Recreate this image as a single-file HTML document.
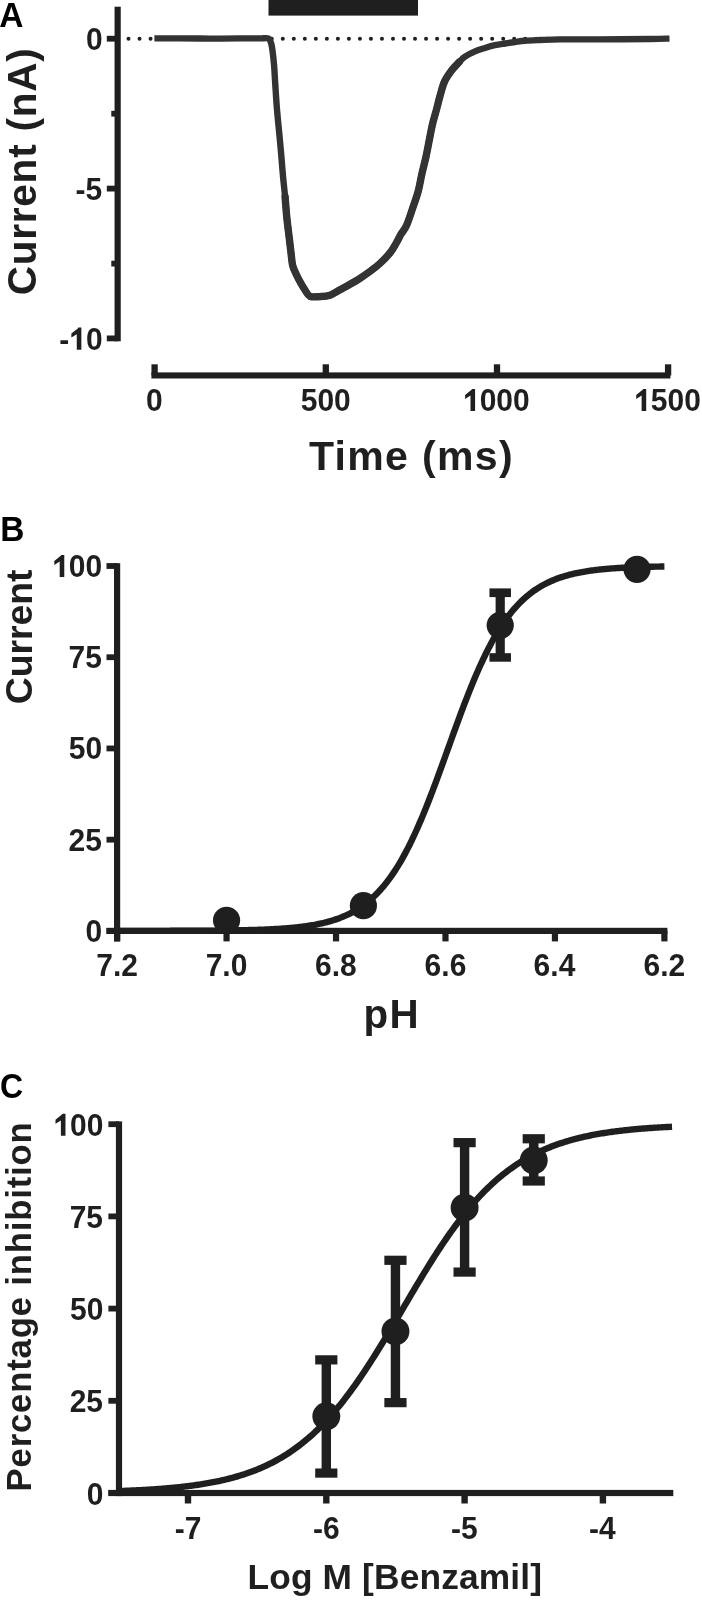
<!DOCTYPE html>
<html><head><meta charset="utf-8"><style>
html,body{margin:0;padding:0;background:#fff;}
body{width:702px;height:1603px;overflow:hidden;}
svg{display:block;will-change:transform;}
text{font-family:"Liberation Sans",sans-serif;font-weight:bold;fill:#1f1f1f;}
</style></head><body>
<svg width="702" height="1603" viewBox="0 0 702 1603">
<text transform="translate(-0.84,27.10) scale(1.0173,1.0407)" font-size="32.96" letter-spacing="0.00" style="fill:#000">A</text>
<rect x="114.55" y="6.70" width="6.20" height="334.60" fill="#1f1f1f"/>
<rect x="106.80" y="35.80" width="10.85" height="5.80" fill="#1f1f1f"/>
<rect x="106.80" y="185.70" width="10.85" height="5.80" fill="#1f1f1f"/>
<rect x="106.80" y="335.50" width="10.85" height="5.80" fill="#1f1f1f"/>
<rect x="111.30" y="110.80" width="6.35" height="5.80" fill="#1f1f1f"/>
<rect x="111.30" y="260.70" width="6.35" height="5.80" fill="#1f1f1f"/>
<text transform="translate(85.95,49.94) scale(1,1.0407)" font-size="30.0">0</text>
<text transform="translate(75.57,199.84) scale(1,1.0407)" font-size="30.0">-</text>
<text transform="translate(85.56,199.84) scale(1,1.0407)" font-size="30.0">5</text>
<text transform="translate(59.28,349.64) scale(1,1.0407)" font-size="30.0">-</text>
<polygon points="81.36,349.64 81.36,327.60 78.27,327.60 77.82,328.41 71.37,333.56 71.37,337.62 76.77,334.22 76.77,349.64" fill="#1f1f1f"/>
<text transform="translate(85.95,349.64) scale(1,1.0407)" font-size="30.0">0</text>
<text transform="translate(36.30,295.26) rotate(-90) scale(1,1.0000)" font-size="40.50" letter-spacing="0.77" style="fill:#1f1f1f">Current (nA)</text>
<rect x="151.40" y="372.40" width="519.00" height="6.10" fill="#1f1f1f"/>
<rect x="151.45" y="364.30" width="6.30" height="11.15" fill="#1f1f1f"/>
<text transform="translate(146.08,411.00) scale(1,1.0407)" font-size="30.0">0</text>
<rect x="322.65" y="364.30" width="6.30" height="11.15" fill="#1f1f1f"/>
<text transform="translate(300.73,411.00) scale(1,1.0407)" font-size="30.0">5</text>
<text transform="translate(317.41,411.00) scale(1,1.0407)" font-size="30.0">0</text>
<text transform="translate(334.09,411.00) scale(1,1.0407)" font-size="30.0">0</text>
<rect x="493.85" y="364.30" width="6.30" height="11.15" fill="#1f1f1f"/>
<polygon points="475.09,411.00 475.09,388.96 472.00,388.96 471.56,389.77 465.11,394.92 465.11,398.98 470.50,395.58 470.50,411.00" fill="#1f1f1f"/>
<text transform="translate(479.69,411.00) scale(1,1.0407)" font-size="30.0">0</text>
<text transform="translate(496.37,411.00) scale(1,1.0407)" font-size="30.0">0</text>
<text transform="translate(513.04,411.00) scale(1,1.0407)" font-size="30.0">0</text>
<rect x="664.95" y="364.30" width="6.30" height="11.15" fill="#1f1f1f"/>
<polygon points="646.20,411.00 646.20,388.96 643.11,388.96 642.65,389.77 636.21,394.92 636.21,398.98 641.61,395.58 641.61,411.00" fill="#1f1f1f"/>
<text transform="translate(650.78,411.00) scale(1,1.0407)" font-size="30.0">5</text>
<text transform="translate(667.46,411.00) scale(1,1.0407)" font-size="30.0">0</text>
<text transform="translate(684.14,411.00) scale(1,1.0407)" font-size="30.0">0</text>
<text transform="translate(308.95,469.70) scale(1.0000,1.0000)" font-size="41.06" letter-spacing="1.31" style="fill:#1f1f1f">Time (ms)</text>
<rect x="268.50" y="0.00" width="149.50" height="15.60" fill="#1f1f1f"/>
<circle cx="128.50" cy="38.70" r="2.0" fill="#1f1f1f"/>
<circle cx="139.52" cy="38.70" r="2.0" fill="#1f1f1f"/>
<circle cx="150.54" cy="38.70" r="2.0" fill="#1f1f1f"/>
<circle cx="161.56" cy="38.70" r="2.0" fill="#1f1f1f"/>
<circle cx="172.58" cy="38.70" r="2.0" fill="#1f1f1f"/>
<circle cx="183.60" cy="38.70" r="2.0" fill="#1f1f1f"/>
<circle cx="194.62" cy="38.70" r="2.0" fill="#1f1f1f"/>
<circle cx="205.64" cy="38.70" r="2.0" fill="#1f1f1f"/>
<circle cx="216.66" cy="38.70" r="2.0" fill="#1f1f1f"/>
<circle cx="227.68" cy="38.70" r="2.0" fill="#1f1f1f"/>
<circle cx="238.70" cy="38.70" r="2.0" fill="#1f1f1f"/>
<circle cx="249.72" cy="38.70" r="2.0" fill="#1f1f1f"/>
<circle cx="260.74" cy="38.70" r="2.0" fill="#1f1f1f"/>
<circle cx="271.76" cy="38.70" r="2.0" fill="#1f1f1f"/>
<circle cx="282.78" cy="38.70" r="2.0" fill="#1f1f1f"/>
<circle cx="293.80" cy="38.70" r="2.0" fill="#1f1f1f"/>
<circle cx="304.82" cy="38.70" r="2.0" fill="#1f1f1f"/>
<circle cx="315.84" cy="38.70" r="2.0" fill="#1f1f1f"/>
<circle cx="326.86" cy="38.70" r="2.0" fill="#1f1f1f"/>
<circle cx="337.88" cy="38.70" r="2.0" fill="#1f1f1f"/>
<circle cx="348.90" cy="38.70" r="2.0" fill="#1f1f1f"/>
<circle cx="359.92" cy="38.70" r="2.0" fill="#1f1f1f"/>
<circle cx="370.94" cy="38.70" r="2.0" fill="#1f1f1f"/>
<circle cx="381.96" cy="38.70" r="2.0" fill="#1f1f1f"/>
<circle cx="392.98" cy="38.70" r="2.0" fill="#1f1f1f"/>
<circle cx="404.00" cy="38.70" r="2.0" fill="#1f1f1f"/>
<circle cx="415.02" cy="38.70" r="2.0" fill="#1f1f1f"/>
<circle cx="426.04" cy="38.70" r="2.0" fill="#1f1f1f"/>
<circle cx="437.06" cy="38.70" r="2.0" fill="#1f1f1f"/>
<circle cx="448.08" cy="38.70" r="2.0" fill="#1f1f1f"/>
<circle cx="459.10" cy="38.70" r="2.0" fill="#1f1f1f"/>
<circle cx="470.12" cy="38.70" r="2.0" fill="#1f1f1f"/>
<circle cx="481.14" cy="38.70" r="2.0" fill="#1f1f1f"/>
<circle cx="492.16" cy="38.70" r="2.0" fill="#1f1f1f"/>
<circle cx="503.18" cy="38.70" r="2.0" fill="#1f1f1f"/>
<circle cx="514.20" cy="38.70" r="2.0" fill="#1f1f1f"/>
<circle cx="525.22" cy="38.70" r="2.0" fill="#1f1f1f"/>
<circle cx="536.24" cy="38.70" r="2.0" fill="#1f1f1f"/>
<circle cx="547.26" cy="38.70" r="2.0" fill="#1f1f1f"/>
<circle cx="558.28" cy="38.70" r="2.0" fill="#1f1f1f"/>
<circle cx="569.30" cy="38.70" r="2.0" fill="#1f1f1f"/>
<circle cx="580.32" cy="38.70" r="2.0" fill="#1f1f1f"/>
<circle cx="591.34" cy="38.70" r="2.0" fill="#1f1f1f"/>
<circle cx="602.36" cy="38.70" r="2.0" fill="#1f1f1f"/>
<circle cx="613.38" cy="38.70" r="2.0" fill="#1f1f1f"/>
<circle cx="624.40" cy="38.70" r="2.0" fill="#1f1f1f"/>
<circle cx="635.42" cy="38.70" r="2.0" fill="#1f1f1f"/>
<circle cx="646.44" cy="38.70" r="2.0" fill="#1f1f1f"/>
<circle cx="657.46" cy="38.70" r="2.0" fill="#1f1f1f"/>
<path d="M154.40,38.40 C158.67,38.38 170.73,38.27 180.00,38.30 C189.27,38.33 200.00,38.58 210.00,38.60 C220.00,38.62 231.33,38.45 240.00,38.40 C248.67,38.35 258.33,38.32 262.00,38.30" fill="none" stroke="#333333" stroke-width="6.3" stroke-linejoin="round" stroke-linecap="butt"/>
<path d="M262.00,38.30 C263.08,38.33 266.97,37.63 268.50,38.50 C270.03,39.37 270.52,41.35 271.20,43.50 C271.88,45.65 272.12,47.72 272.60,51.40 C273.08,55.08 273.70,60.85 274.10,65.60 C274.50,70.35 274.70,75.15 275.00,79.90 C275.30,84.65 275.58,89.37 275.90,94.10 C276.22,98.83 276.52,103.55 276.90,108.30 C277.28,113.05 277.75,117.85 278.20,122.60 C278.65,127.35 279.08,131.30 279.60,136.80 C280.12,142.30 280.73,149.03 281.30,155.60 C281.87,162.17 282.37,169.33 283.00,176.20 C283.63,183.07 284.47,189.93 285.10,196.80 C285.73,203.67 286.07,210.20 286.80,217.40 C287.53,224.60 288.80,234.10 289.50,240.00 C290.20,245.90 290.47,248.53 291.00,252.80 C291.53,257.07 291.83,262.03 292.70,265.60 C293.57,269.17 294.88,271.35 296.20,274.20 C297.52,277.05 299.13,280.07 300.60,282.70 C302.07,285.33 303.43,287.73 305.00,290.00 C306.57,292.27 307.50,295.20 310.00,296.30 C312.50,297.40 316.67,296.78 320.00,296.60 C323.33,296.42 326.67,296.33 330.00,295.20 C333.33,294.07 336.67,291.62 340.00,289.80 C343.33,287.98 346.67,286.22 350.00,284.30 C353.33,282.38 356.67,280.45 360.00,278.30 C363.33,276.15 366.67,273.88 370.00,271.40 C373.33,268.92 376.67,266.48 380.00,263.40 C383.33,260.32 387.33,256.22 390.00,252.90 C392.67,249.58 394.17,246.62 396.00,243.50 C397.83,240.38 399.25,237.20 401.00,234.20 C402.75,231.20 404.57,229.80 406.50,225.50 C408.43,221.20 410.65,214.10 412.60,208.40 C414.55,202.70 416.67,197.00 418.20,191.30 C419.73,185.60 420.52,179.90 421.80,174.20 C423.08,168.50 424.65,162.80 425.90,157.10 C427.15,151.40 428.20,145.50 429.30,140.00 C430.40,134.50 431.32,129.12 432.50,124.10 C433.68,119.08 435.13,114.65 436.40,109.90 C437.67,105.15 438.73,100.35 440.10,95.60 C441.47,90.85 442.72,85.55 444.60,81.40 C446.48,77.25 448.97,73.92 451.40,70.70 C453.83,67.48 456.93,64.43 459.20,62.10 C461.47,59.77 462.37,58.48 465.00,56.70 C467.63,54.92 471.67,52.85 475.00,51.40 C478.33,49.95 481.67,49.03 485.00,48.00 C488.33,46.97 491.67,45.95 495.00,45.20 C498.33,44.45 501.67,44.03 505.00,43.50 C508.33,42.97 511.67,42.47 515.00,42.00 C518.33,41.53 520.83,41.03 525.00,40.70 C529.17,40.37 534.17,40.22 540.00,40.00 C545.83,39.78 550.00,39.50 560.00,39.40 C570.00,39.30 585.00,39.47 600.00,39.40 C615.00,39.33 638.42,39.13 650.00,39.00 C661.58,38.87 666.25,38.67 669.50,38.60" fill="none" stroke="#333333" stroke-width="6.4" stroke-linejoin="round" stroke-linecap="butt"/>
<path d="M285.10,196.80 C285.38,200.23 286.07,210.20 286.80,217.40 C287.53,224.60 288.80,234.10 289.50,240.00 C290.20,245.90 290.47,248.53 291.00,252.80 C291.53,257.07 291.83,262.03 292.70,265.60 C293.57,269.17 294.88,271.35 296.20,274.20 C297.52,277.05 299.13,280.07 300.60,282.70 C302.07,285.33 303.43,287.73 305.00,290.00 C306.57,292.27 307.50,295.20 310.00,296.30 C312.50,297.40 316.67,296.78 320.00,296.60 C323.33,296.42 326.67,296.33 330.00,295.20 C333.33,294.07 336.67,291.62 340.00,289.80 C343.33,287.98 346.67,286.22 350.00,284.30 C353.33,282.38 356.67,280.45 360.00,278.30 C363.33,276.15 366.67,273.88 370.00,271.40 C373.33,268.92 376.67,266.48 380.00,263.40 C383.33,260.32 387.33,256.22 390.00,252.90 C392.67,249.58 394.17,246.62 396.00,243.50 C397.83,240.38 399.25,237.20 401.00,234.20 C402.75,231.20 404.57,229.80 406.50,225.50 C408.43,221.20 410.65,214.10 412.60,208.40 C414.55,202.70 416.67,197.00 418.20,191.30 C419.73,185.60 420.52,179.90 421.80,174.20 C423.08,168.50 424.65,162.80 425.90,157.10 C427.15,151.40 428.20,145.50 429.30,140.00 C430.40,134.50 431.32,129.12 432.50,124.10 C433.68,119.08 435.13,114.65 436.40,109.90 C437.67,105.15 438.73,100.35 440.10,95.60 C441.47,90.85 442.72,85.55 444.60,81.40 C446.48,77.25 448.97,73.92 451.40,70.70 C453.83,67.48 457.90,63.53 459.20,62.10" fill="none" stroke="#333333" stroke-width="7.4" stroke-linejoin="round" stroke-linecap="round"/>
<text transform="translate(0.16,541.05) scale(1.0082,1.0407)" font-size="33.17" letter-spacing="0.00" style="fill:#000">B</text>
<rect x="114.00" y="563.20" width="6.20" height="378.20" fill="#1f1f1f"/>
<rect x="106.50" y="927.80" width="560.90" height="6.20" fill="#1f1f1f"/>
<rect x="106.50" y="928.00" width="10.60" height="5.80" fill="#1f1f1f"/>
<text transform="translate(85.55,941.94) scale(1,1.0407)" font-size="30.0">0</text>
<rect x="106.50" y="836.77" width="10.60" height="5.80" fill="#1f1f1f"/>
<text transform="translate(68.48,850.71) scale(1,1.0407)" font-size="30.0">2</text>
<text transform="translate(85.16,850.71) scale(1,1.0407)" font-size="30.0">5</text>
<rect x="106.50" y="745.55" width="10.60" height="5.80" fill="#1f1f1f"/>
<text transform="translate(68.87,759.49) scale(1,1.0407)" font-size="30.0">5</text>
<text transform="translate(85.55,759.49) scale(1,1.0407)" font-size="30.0">0</text>
<rect x="106.50" y="654.32" width="10.60" height="5.80" fill="#1f1f1f"/>
<text transform="translate(68.48,668.26) scale(1,1.0407)" font-size="30.0">7</text>
<text transform="translate(85.16,668.26) scale(1,1.0407)" font-size="30.0">5</text>
<rect x="106.50" y="563.10" width="10.60" height="5.80" fill="#1f1f1f"/>
<polygon points="64.28,577.04 64.28,555.00 61.19,555.00 60.74,555.81 54.29,560.96 54.29,565.02 59.69,561.62 59.69,577.04" fill="#1f1f1f"/>
<text transform="translate(68.87,577.04) scale(1,1.0407)" font-size="30.0">0</text>
<text transform="translate(85.55,577.04) scale(1,1.0407)" font-size="30.0">0</text>
<rect x="114.00" y="930.90" width="6.20" height="10.50" fill="#1f1f1f"/>
<text transform="translate(96.20,975.90) scale(1,1.0407)" font-size="30.0">7</text>
<text transform="translate(112.88,975.90) scale(1,1.0407)" font-size="30.0">.</text>
<text transform="translate(121.22,975.90) scale(1,1.0407)" font-size="30.0">2</text>
<rect x="223.46" y="930.90" width="6.20" height="10.50" fill="#1f1f1f"/>
<text transform="translate(205.68,975.90) scale(1,1.0407)" font-size="30.0">7</text>
<text transform="translate(222.36,975.90) scale(1,1.0407)" font-size="30.0">.</text>
<text transform="translate(230.70,975.90) scale(1,1.0407)" font-size="30.0">0</text>
<rect x="332.92" y="930.90" width="6.20" height="10.50" fill="#1f1f1f"/>
<text transform="translate(315.08,975.90) scale(1,1.0407)" font-size="30.0">6</text>
<text transform="translate(331.76,975.90) scale(1,1.0407)" font-size="30.0">.</text>
<text transform="translate(340.10,975.90) scale(1,1.0407)" font-size="30.0">8</text>
<rect x="442.38" y="930.90" width="6.20" height="10.50" fill="#1f1f1f"/>
<text transform="translate(424.62,975.90) scale(1,1.0407)" font-size="30.0">6</text>
<text transform="translate(441.30,975.90) scale(1,1.0407)" font-size="30.0">.</text>
<text transform="translate(449.64,975.90) scale(1,1.0407)" font-size="30.0">6</text>
<rect x="551.84" y="930.90" width="6.20" height="10.50" fill="#1f1f1f"/>
<text transform="translate(533.61,975.90) scale(1,1.0407)" font-size="30.0">6</text>
<text transform="translate(550.29,975.90) scale(1,1.0407)" font-size="30.0">.</text>
<text transform="translate(558.63,975.90) scale(1,1.0407)" font-size="30.0">4</text>
<rect x="661.30" y="930.90" width="6.20" height="10.50" fill="#1f1f1f"/>
<text transform="translate(643.60,975.90) scale(1,1.0407)" font-size="30.0">6</text>
<text transform="translate(660.27,975.90) scale(1,1.0407)" font-size="30.0">.</text>
<text transform="translate(668.62,975.90) scale(1,1.0407)" font-size="30.0">2</text>
<text transform="translate(363.54,1027.90) scale(1.0000,1.0000)" font-size="40.36" letter-spacing="1.36" style="fill:#1f1f1f">pH</text>
<text transform="translate(32.05,704.24) rotate(-90) scale(1,1.0000)" font-size="37.50" letter-spacing="-0.12" style="fill:#1f1f1f">Current</text>
<path d="M117.10,930.88 L118.47,930.88 L119.84,930.88 L121.22,930.88 L122.59,930.88 L123.96,930.88 L125.33,930.88 L126.70,930.88 L128.07,930.88 L129.45,930.88 L130.82,930.88 L132.19,930.88 L133.56,930.88 L134.93,930.87 L136.30,930.87 L137.68,930.87 L139.05,930.87 L140.42,930.87 L141.79,930.87 L143.16,930.87 L144.53,930.87 L145.91,930.86 L147.28,930.86 L148.65,930.86 L150.02,930.86 L151.39,930.86 L152.76,930.86 L154.14,930.85 L155.51,930.85 L156.88,930.85 L158.25,930.85 L159.62,930.84 L160.99,930.84 L162.37,930.84 L163.74,930.84 L165.11,930.83 L166.48,930.83 L167.85,930.83 L169.22,930.83 L170.60,930.82 L171.97,930.82 L173.34,930.82 L174.71,930.81 L176.08,930.81 L177.45,930.81 L178.83,930.80 L180.20,930.80 L181.57,930.79 L182.94,930.79 L184.31,930.78 L185.68,930.78 L187.06,930.77 L188.43,930.77 L189.80,930.76 L191.17,930.76 L192.54,930.75 L193.91,930.74 L195.29,930.74 L196.66,930.73 L198.03,930.72 L199.40,930.71 L200.77,930.71 L202.14,930.70 L203.52,930.69 L204.89,930.68 L206.26,930.67 L207.63,930.66 L209.00,930.65 L210.37,930.64 L211.75,930.63 L213.12,930.62 L214.49,930.61 L215.86,930.59 L217.23,930.58 L218.60,930.57 L219.98,930.55 L221.35,930.54 L222.72,930.52 L224.09,930.51 L225.46,930.49 L226.83,930.47 L228.21,930.45 L229.58,930.44 L230.95,930.42 L232.32,930.40 L233.69,930.37 L235.06,930.35 L236.44,930.33 L237.81,930.30 L239.18,930.28 L240.55,930.25 L241.92,930.22 L243.29,930.19 L244.67,930.16 L246.04,930.13 L247.41,930.10 L248.78,930.07 L250.15,930.03 L251.52,929.99 L252.90,929.96 L254.27,929.92 L255.64,929.87 L257.01,929.83 L258.38,929.78 L259.75,929.74 L261.13,929.69 L262.50,929.64 L263.87,929.58 L265.24,929.53 L266.61,929.47 L267.98,929.41 L269.36,929.34 L270.73,929.28 L272.10,929.21 L273.47,929.14 L274.84,929.06 L276.21,928.98 L277.59,928.90 L278.96,928.82 L280.33,928.73 L281.70,928.63 L283.07,928.54 L284.44,928.44 L285.82,928.33 L287.19,928.23 L288.56,928.11 L289.93,927.99 L291.30,927.87 L292.67,927.74 L294.05,927.61 L295.42,927.47 L296.79,927.32 L298.16,927.17 L299.53,927.01 L300.91,926.85 L302.28,926.68 L303.65,926.50 L305.02,926.32 L306.39,926.12 L307.76,925.92 L309.14,925.71 L310.51,925.49 L311.88,925.27 L313.25,925.03 L314.62,924.78 L315.99,924.53 L317.37,924.26 L318.74,923.98 L320.11,923.69 L321.48,923.39 L322.85,923.07 L324.22,922.75 L325.60,922.41 L326.97,922.05 L328.34,921.68 L329.71,921.30 L331.08,920.90 L332.45,920.49 L333.83,920.06 L335.20,919.61 L336.57,919.14 L337.94,918.65 L339.31,918.15 L340.68,917.62 L342.06,917.08 L343.43,916.51 L344.80,915.92 L346.17,915.31 L347.54,914.67 L348.91,914.01 L350.29,913.32 L351.66,912.61 L353.03,911.87 L354.40,911.10 L355.77,910.30 L357.14,909.48 L358.52,908.62 L359.89,907.72 L361.26,906.80 L362.63,905.84 L364.00,904.85 L365.37,903.82 L366.75,902.75 L368.12,901.64 L369.49,900.49 L370.86,899.31 L372.23,898.08 L373.60,896.81 L374.98,895.49 L376.35,894.13 L377.72,892.73 L379.09,891.27 L380.46,889.77 L381.83,888.22 L383.21,886.62 L384.58,884.96 L385.95,883.26 L387.32,881.50 L388.69,879.68 L390.06,877.81 L391.44,875.88 L392.81,873.90 L394.18,871.86 L395.55,869.76 L396.92,867.60 L398.29,865.38 L399.67,863.10 L401.04,860.76 L402.41,858.36 L403.78,855.90 L405.15,853.38 L406.52,850.79 L407.90,848.14 L409.27,845.44 L410.64,842.67 L412.01,839.84 L413.38,836.95 L414.75,834.00 L416.13,830.99 L417.50,827.93 L418.87,824.81 L420.24,821.63 L421.61,818.41 L422.98,815.12 L424.36,811.79 L425.73,808.41 L427.10,804.98 L428.47,801.51 L429.84,798.00 L431.21,794.44 L432.59,790.85 L433.96,787.22 L435.33,783.56 L436.70,779.87 L438.07,776.15 L439.44,772.41 L440.82,768.65 L442.19,764.88 L443.56,761.08 L444.93,757.28 L446.30,753.47 L447.67,749.65 L449.05,745.84 L450.42,742.02 L451.79,738.21 L453.16,734.41 L454.53,730.63 L455.90,726.85 L457.28,723.10 L458.65,719.37 L460.02,715.66 L461.39,711.98 L462.76,708.33 L464.13,704.72 L465.51,701.14 L466.88,697.60 L468.25,694.10 L469.62,690.64 L470.99,687.23 L472.36,683.87 L473.74,680.56 L475.11,677.30 L476.48,674.09 L477.85,670.93 L479.22,667.83 L480.59,664.79 L481.97,661.80 L483.34,658.88 L484.71,656.01 L486.08,653.20 L487.45,650.46 L488.83,647.77 L490.20,645.15 L491.57,642.58 L492.94,640.08 L494.31,637.64 L495.68,635.27 L497.06,632.95 L498.43,630.69 L499.80,628.49 L501.17,626.36 L502.54,624.28 L503.91,622.26 L505.29,620.30 L506.66,618.39 L508.03,616.54 L509.40,614.75 L510.77,613.01 L512.14,611.32 L513.52,609.69 L514.89,608.10 L516.26,606.57 L517.63,605.08 L519.00,603.65 L520.37,602.26 L521.75,600.92 L523.12,599.62 L524.49,598.36 L525.86,597.15 L527.23,595.98 L528.60,594.85 L529.98,593.75 L531.35,592.70 L532.72,591.68 L534.09,590.70 L535.46,589.76 L536.83,588.84 L538.21,587.96 L539.58,587.12 L540.95,586.30 L542.32,585.51 L543.69,584.75 L545.06,584.02 L546.44,583.32 L547.81,582.64 L549.18,581.99 L550.55,581.36 L551.92,580.76 L553.29,580.18 L554.67,579.62 L556.04,579.08 L557.41,578.56 L558.78,578.06 L560.15,577.59 L561.52,577.13 L562.90,576.68 L564.27,576.26 L565.64,575.85 L567.01,575.46 L568.38,575.08 L569.75,574.71 L571.13,574.37 L572.50,574.03 L573.87,573.71 L575.24,573.40 L576.61,573.10 L577.98,572.82 L579.36,572.54 L580.73,572.28 L582.10,572.03 L583.47,571.78 L584.84,571.55 L586.21,571.32 L587.59,571.11 L588.96,570.90 L590.33,570.70 L591.70,570.51 L593.07,570.33 L594.44,570.16 L595.82,569.99 L597.19,569.83 L598.56,569.67 L599.93,569.52 L601.30,569.38 L602.67,569.24 L604.05,569.11 L605.42,568.98 L606.79,568.86 L608.16,568.75 L609.53,568.63 L610.90,568.53 L612.28,568.42 L613.65,568.33 L615.02,568.23 L616.39,568.14 L617.76,568.05 L619.13,567.97 L620.51,567.89 L621.88,567.81 L623.25,567.74 L624.62,567.67 L625.99,567.60 L627.36,567.53 L628.74,567.47 L630.11,567.41 L631.48,567.35 L632.85,567.30 L634.22,567.25 L635.59,567.19 L636.97,567.15 L638.34,567.10 L639.71,567.05 L641.08,567.01 L642.45,566.97 L643.82,566.93 L645.20,566.89 L646.57,566.86 L647.94,566.82 L649.31,566.79 L650.68,566.75 L652.05,566.72 L653.43,566.69 L654.80,566.67 L656.17,566.64 L657.54,566.61 L658.91,566.59 L660.28,566.56 L661.66,566.54 L663.03,566.52 L664.40,566.50" fill="none" stroke="#1f1f1f" stroke-width="6.4" stroke-linejoin="round" stroke-linecap="butt"/>
<circle cx="226.56" cy="920.32" r="13.6" fill="#1f1f1f"/>
<circle cx="363.39" cy="905.72" r="13.6" fill="#1f1f1f"/>
<circle cx="637.04" cy="569.28" r="13.6" fill="#1f1f1f"/>
<rect x="495.61" y="592.70" width="9.20" height="64.70" fill="#1f1f1f"/>
<rect x="489.46" y="588.40" width="21.50" height="8.70" fill="#1f1f1f"/>
<rect x="489.46" y="653.20" width="21.50" height="8.50" fill="#1f1f1f"/>
<circle cx="500.21" cy="625.30" r="13.6" fill="#1f1f1f"/>
<text transform="translate(-0.06,1097.66) scale(0.9752,1.0407)" font-size="32.85" letter-spacing="0.00" style="fill:#000">C</text>
<rect x="115.90" y="1121.40" width="6.20" height="374.70" fill="#1f1f1f"/>
<rect x="108.40" y="1489.90" width="564.90" height="6.20" fill="#1f1f1f"/>
<rect x="108.40" y="1490.10" width="10.60" height="5.80" fill="#1f1f1f"/>
<text transform="translate(86.75,1504.64) scale(1,1.0407)" font-size="30.0">0</text>
<rect x="108.40" y="1397.90" width="10.60" height="5.80" fill="#1f1f1f"/>
<text transform="translate(69.68,1412.44) scale(1,1.0407)" font-size="30.0">2</text>
<text transform="translate(86.36,1412.44) scale(1,1.0407)" font-size="30.0">5</text>
<rect x="108.40" y="1305.70" width="10.60" height="5.80" fill="#1f1f1f"/>
<text transform="translate(70.07,1320.24) scale(1,1.0407)" font-size="30.0">5</text>
<text transform="translate(86.75,1320.24) scale(1,1.0407)" font-size="30.0">0</text>
<rect x="108.40" y="1213.50" width="10.60" height="5.80" fill="#1f1f1f"/>
<text transform="translate(69.68,1228.04) scale(1,1.0407)" font-size="30.0">7</text>
<text transform="translate(86.36,1228.04) scale(1,1.0407)" font-size="30.0">5</text>
<rect x="108.40" y="1121.30" width="10.60" height="5.80" fill="#1f1f1f"/>
<polygon points="65.48,1135.84 65.48,1113.80 62.39,1113.80 61.94,1114.61 55.49,1119.76 55.49,1123.82 60.89,1120.42 60.89,1135.84" fill="#1f1f1f"/>
<text transform="translate(70.07,1135.84) scale(1,1.0407)" font-size="30.0">0</text>
<text transform="translate(86.75,1135.84) scale(1,1.0407)" font-size="30.0">0</text>
<rect x="184.80" y="1493.00" width="6.40" height="10.50" fill="#1f1f1f"/>
<text transform="translate(174.74,1538.50) scale(1,1.0407)" font-size="30.0">-</text>
<text transform="translate(184.73,1538.50) scale(1,1.0407)" font-size="30.0">7</text>
<rect x="323.10" y="1493.00" width="6.40" height="10.50" fill="#1f1f1f"/>
<text transform="translate(312.92,1538.50) scale(1,1.0407)" font-size="30.0">-</text>
<text transform="translate(322.91,1538.50) scale(1,1.0407)" font-size="30.0">6</text>
<rect x="461.40" y="1493.00" width="6.40" height="10.50" fill="#1f1f1f"/>
<text transform="translate(451.10,1538.50) scale(1,1.0407)" font-size="30.0">-</text>
<text transform="translate(461.09,1538.50) scale(1,1.0407)" font-size="30.0">5</text>
<rect x="599.70" y="1493.00" width="6.40" height="10.50" fill="#1f1f1f"/>
<text transform="translate(589.06,1538.50) scale(1,1.0407)" font-size="30.0">-</text>
<text transform="translate(599.05,1538.50) scale(1,1.0407)" font-size="30.0">4</text>
<text transform="translate(247.53,1589.20) scale(1.0000,1.0000)" font-size="35.34" letter-spacing="0.13" style="fill:#1f1f1f">Log M [Benzamil]</text>
<text transform="translate(31.20,1491.42) rotate(-90) scale(1,1.0000)" font-size="34.64" letter-spacing="0.85" style="fill:#1f1f1f">Percentage inhibition</text>
<path d="M118.85,1491.05 L120.24,1491.00 L121.62,1490.95 L123.01,1490.90 L124.40,1490.84 L125.78,1490.79 L127.17,1490.73 L128.56,1490.67 L129.94,1490.61 L131.33,1490.55 L132.71,1490.49 L134.10,1490.42 L135.49,1490.36 L136.87,1490.29 L138.26,1490.22 L139.65,1490.15 L141.03,1490.07 L142.42,1490.00 L143.81,1489.92 L145.19,1489.84 L146.58,1489.76 L147.97,1489.68 L149.35,1489.59 L150.74,1489.51 L152.13,1489.42 L153.51,1489.33 L154.90,1489.23 L156.28,1489.13 L157.67,1489.04 L159.06,1488.93 L160.44,1488.83 L161.83,1488.72 L163.22,1488.61 L164.60,1488.50 L165.99,1488.39 L167.38,1488.27 L168.76,1488.15 L170.15,1488.02 L171.54,1487.90 L172.92,1487.77 L174.31,1487.63 L175.70,1487.50 L177.08,1487.36 L178.47,1487.21 L179.85,1487.06 L181.24,1486.91 L182.63,1486.76 L184.01,1486.60 L185.40,1486.44 L186.79,1486.27 L188.17,1486.10 L189.56,1485.92 L190.95,1485.74 L192.33,1485.56 L193.72,1485.37 L195.11,1485.18 L196.49,1484.98 L197.88,1484.78 L199.27,1484.57 L200.65,1484.36 L202.04,1484.14 L203.42,1483.91 L204.81,1483.68 L206.20,1483.45 L207.58,1483.21 L208.97,1482.96 L210.36,1482.71 L211.74,1482.45 L213.13,1482.18 L214.52,1481.91 L215.90,1481.63 L217.29,1481.35 L218.68,1481.06 L220.06,1480.76 L221.45,1480.45 L222.83,1480.14 L224.22,1479.82 L225.61,1479.49 L226.99,1479.15 L228.38,1478.81 L229.77,1478.45 L231.15,1478.09 L232.54,1477.72 L233.93,1477.34 L235.31,1476.96 L236.70,1476.56 L238.09,1476.15 L239.47,1475.74 L240.86,1475.31 L242.25,1474.88 L243.63,1474.43 L245.02,1473.97 L246.40,1473.51 L247.79,1473.03 L249.18,1472.54 L250.56,1472.04 L251.95,1471.53 L253.34,1471.01 L254.72,1470.47 L256.11,1469.93 L257.50,1469.37 L258.88,1468.80 L260.27,1468.21 L261.66,1467.61 L263.04,1467.00 L264.43,1466.38 L265.82,1465.74 L267.20,1465.09 L268.59,1464.42 L269.97,1463.74 L271.36,1463.04 L272.75,1462.33 L274.13,1461.61 L275.52,1460.86 L276.91,1460.11 L278.29,1459.33 L279.68,1458.54 L281.07,1457.73 L282.45,1456.91 L283.84,1456.07 L285.23,1455.21 L286.61,1454.33 L288.00,1453.44 L289.39,1452.53 L290.77,1451.60 L292.16,1450.65 L293.54,1449.68 L294.93,1448.69 L296.32,1447.69 L297.70,1446.66 L299.09,1445.62 L300.48,1444.55 L301.86,1443.47 L303.25,1442.36 L304.64,1441.23 L306.02,1440.08 L307.41,1438.91 L308.80,1437.72 L310.18,1436.51 L311.57,1435.28 L312.96,1434.02 L314.34,1432.74 L315.73,1431.44 L317.11,1430.12 L318.50,1428.78 L319.89,1427.41 L321.27,1426.02 L322.66,1424.61 L324.05,1423.17 L325.43,1421.71 L326.82,1420.23 L328.21,1418.73 L329.59,1417.20 L330.98,1415.65 L332.37,1414.07 L333.75,1412.48 L335.14,1410.85 L336.53,1409.21 L337.91,1407.54 L339.30,1405.85 L340.68,1404.14 L342.07,1402.41 L343.46,1400.65 L344.84,1398.87 L346.23,1397.06 L347.62,1395.24 L349.00,1393.39 L350.39,1391.52 L351.78,1389.63 L353.16,1387.72 L354.55,1385.78 L355.94,1383.83 L357.32,1381.85 L358.71,1379.86 L360.10,1377.84 L361.48,1375.81 L362.87,1373.75 L364.25,1371.68 L365.64,1369.59 L367.03,1367.48 L368.41,1365.36 L369.80,1363.22 L371.19,1361.06 L372.57,1358.88 L373.96,1356.69 L375.35,1354.49 L376.73,1352.27 L378.12,1350.04 L379.51,1347.80 L380.89,1345.54 L382.28,1343.27 L383.67,1340.99 L385.05,1338.70 L386.44,1336.40 L387.82,1334.10 L389.21,1331.78 L390.60,1329.46 L391.98,1327.13 L393.37,1324.79 L394.76,1322.45 L396.14,1320.10 L397.53,1317.75 L398.92,1315.40 L400.30,1313.05 L401.69,1310.69 L403.08,1308.33 L404.46,1305.98 L405.85,1303.62 L407.23,1301.27 L408.62,1298.91 L410.01,1296.56 L411.39,1294.22 L412.78,1291.88 L414.17,1289.54 L415.55,1287.22 L416.94,1284.89 L418.33,1282.58 L419.71,1280.27 L421.10,1277.98 L422.49,1275.69 L423.87,1273.41 L425.26,1271.15 L426.65,1268.89 L428.03,1266.65 L429.42,1264.42 L430.80,1262.21 L432.19,1260.01 L433.58,1257.82 L434.96,1255.65 L436.35,1253.50 L437.74,1251.36 L439.12,1249.24 L440.51,1247.13 L441.90,1245.05 L443.28,1242.98 L444.67,1240.93 L446.06,1238.90 L447.44,1236.89 L448.83,1234.90 L450.22,1232.93 L451.60,1230.98 L452.99,1229.05 L454.37,1227.14 L455.76,1225.25 L457.15,1223.39 L458.53,1221.55 L459.92,1219.73 L461.31,1217.93 L462.69,1216.15 L464.08,1214.40 L465.47,1212.67 L466.85,1210.96 L468.24,1209.28 L469.63,1207.61 L471.01,1205.98 L472.40,1204.36 L473.79,1202.77 L475.17,1201.20 L476.56,1199.65 L477.94,1198.13 L479.33,1196.63 L480.72,1195.15 L482.10,1193.70 L483.49,1192.27 L484.88,1190.86 L486.26,1189.48 L487.65,1188.12 L489.04,1186.78 L490.42,1185.46 L491.81,1184.16 L493.20,1182.89 L494.58,1181.64 L495.97,1180.41 L497.36,1179.20 L498.74,1178.02 L500.13,1176.85 L501.51,1175.71 L502.90,1174.59 L504.29,1173.49 L505.67,1172.41 L507.06,1171.34 L508.45,1170.30 L509.83,1169.28 L511.22,1168.28 L512.61,1167.30 L513.99,1166.33 L515.38,1165.39 L516.77,1164.46 L518.15,1163.55 L519.54,1162.66 L520.93,1161.79 L522.31,1160.94 L523.70,1160.10 L525.08,1159.28 L526.47,1158.48 L527.86,1157.69 L529.24,1156.92 L530.63,1156.17 L532.02,1155.43 L533.40,1154.71 L534.79,1154.00 L536.18,1153.30 L537.56,1152.63 L538.95,1151.96 L540.34,1151.31 L541.72,1150.68 L543.11,1150.06 L544.50,1149.45 L545.88,1148.85 L547.27,1148.27 L548.65,1147.70 L550.04,1147.15 L551.43,1146.60 L552.81,1146.07 L554.20,1145.55 L555.59,1145.04 L556.97,1144.55 L558.36,1144.06 L559.75,1143.59 L561.13,1143.12 L562.52,1142.67 L563.91,1142.22 L565.29,1141.79 L566.68,1141.37 L568.07,1140.95 L569.45,1140.55 L570.84,1140.15 L572.22,1139.77 L573.61,1139.39 L575.00,1139.02 L576.38,1138.66 L577.77,1138.31 L579.16,1137.97 L580.54,1137.64 L581.93,1137.31 L583.32,1136.99 L584.70,1136.68 L586.09,1136.37 L587.48,1136.08 L588.86,1135.79 L590.25,1135.50 L591.63,1135.22 L593.02,1134.95 L594.41,1134.69 L595.79,1134.43 L597.18,1134.18 L598.57,1133.94 L599.95,1133.70 L601.34,1133.46 L602.73,1133.24 L604.11,1133.01 L605.50,1132.80 L606.89,1132.58 L608.27,1132.38 L609.66,1132.17 L611.05,1131.98 L612.43,1131.79 L613.82,1131.60 L615.20,1131.41 L616.59,1131.24 L617.98,1131.06 L619.36,1130.89 L620.75,1130.73 L622.14,1130.56 L623.52,1130.41 L624.91,1130.25 L626.30,1130.10 L627.68,1129.96 L629.07,1129.81 L630.46,1129.67 L631.84,1129.54 L633.23,1129.40 L634.62,1129.27 L636.00,1129.15 L637.39,1129.02 L638.77,1128.90 L640.16,1128.79 L641.55,1128.67 L642.93,1128.56 L644.32,1128.45 L645.71,1128.35 L647.09,1128.24 L648.48,1128.14 L649.87,1128.04 L651.25,1127.95 L652.64,1127.85 L654.03,1127.76 L655.41,1127.67 L656.80,1127.59 L658.19,1127.50 L659.57,1127.42 L660.96,1127.34 L662.34,1127.26 L663.73,1127.18 L665.12,1127.11 L666.50,1127.04 L667.89,1126.96 L669.28,1126.90 L670.66,1126.83 L672.05,1126.76" fill="none" stroke="#1f1f1f" stroke-width="6.4" stroke-linejoin="round" stroke-linecap="butt"/>
<rect x="321.60" y="1359.86" width="9.40" height="113.22" fill="#1f1f1f"/>
<rect x="315.20" y="1355.26" width="22.20" height="9.20" fill="#1f1f1f"/>
<rect x="315.20" y="1468.48" width="22.20" height="9.20" fill="#1f1f1f"/>
<circle cx="326.30" cy="1416.29" r="13.95" fill="#1f1f1f"/>
<rect x="390.75" y="1260.29" width="9.40" height="142.36" fill="#1f1f1f"/>
<rect x="384.35" y="1255.69" width="22.20" height="9.20" fill="#1f1f1f"/>
<rect x="384.35" y="1398.04" width="22.20" height="9.20" fill="#1f1f1f"/>
<circle cx="395.45" cy="1331.47" r="13.95" fill="#1f1f1f"/>
<rect x="459.90" y="1142.64" width="9.40" height="129.45" fill="#1f1f1f"/>
<rect x="453.50" y="1138.04" width="22.20" height="9.20" fill="#1f1f1f"/>
<rect x="453.50" y="1267.49" width="22.20" height="9.20" fill="#1f1f1f"/>
<circle cx="464.60" cy="1207.73" r="13.95" fill="#1f1f1f"/>
<rect x="529.05" y="1138.77" width="9.40" height="42.23" fill="#1f1f1f"/>
<rect x="522.65" y="1134.17" width="22.20" height="9.20" fill="#1f1f1f"/>
<rect x="522.65" y="1176.40" width="22.20" height="9.20" fill="#1f1f1f"/>
<circle cx="533.75" cy="1160.34" r="13.95" fill="#1f1f1f"/>
</svg>
</body></html>
